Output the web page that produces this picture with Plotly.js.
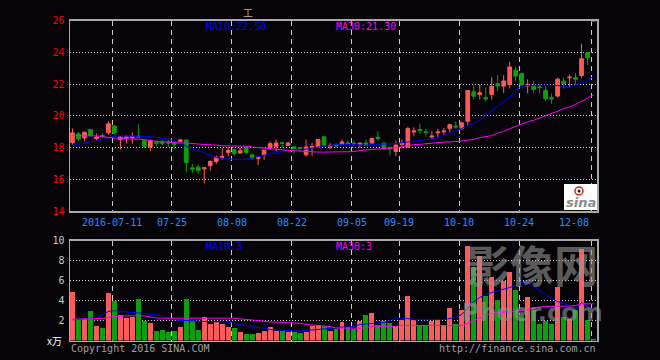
<!DOCTYPE html>
<html>
<head>
<meta charset="utf-8">
<script src="https://cdn.plot.ly/plotly-3.0.1.min.js"></script>
<style>html,body{margin:0;padding:0;background:#050307;}#chart{width:660px;height:360px;}</style>
</head>
<body>
<div id="chart"></div>
<script>
// ---- data ----
const openP  = [18.30,18.87,18.60,19.13,18.56,18.75,18.93,19.36,18.50,18.58,18.62,18.72,18.45,18.03,18.33,18.33,18.35,18.25,18.38,18.47,
                16.72,16.76,16.66,16.85,17.12,17.38,17.69,17.86,17.65,18.03,17.54,17.31,17.54,17.97,18.07,18.30,18.13,18.05,18.00,17.54,
                18.00,18.05,18.67,18.05,18.18,18.18,18.28,18.27,18.18,18.28,18.28,18.64,18.28,17.98,17.75,18.20,18.03,18.98,19.13,18.98,
                18.66,18.92,18.98,19.19,19.36,19.19,19.65,21.51,21.34,21.13,21.34,22.02,21.87,21.97,22.86,22.67,21.87,21.87,21.82,21.60,
                21.13,21.24,22.18,22.39,22.39,22.53,23.97,26.00];
const highP  = [19.20,18.97,19.00,19.15,18.87,18.90,19.67,19.40,18.72,18.79,18.95,19.46,18.47,18.50,18.45,18.48,18.48,18.30,18.55,18.49,
                16.97,16.90,16.72,17.20,17.50,17.97,18.03,17.90,17.97,18.05,17.58,17.44,17.85,18.38,18.49,18.35,18.35,18.10,18.03,18.50,
                18.30,18.50,18.70,18.28,18.28,18.50,18.45,18.43,18.30,18.50,18.60,19.02,18.30,18.05,18.45,18.50,19.30,19.27,19.50,19.17,
                19.02,19.17,19.23,19.50,19.65,19.65,21.60,21.97,21.97,21.77,22.43,22.56,22.56,23.40,23.07,22.70,22.30,22.20,22.00,21.87,
                21.40,22.40,22.40,22.60,22.70,24.54,23.97,26.00];
const lowP   = [18.20,18.40,18.40,18.75,18.45,18.60,18.80,18.80,17.88,18.24,18.24,18.62,17.97,17.78,18.05,18.12,18.03,17.88,18.30,16.42,
                16.39,16.35,15.75,16.55,16.95,17.23,17.44,17.48,17.62,17.55,17.23,16.91,17.23,17.86,17.75,18.00,18.10,17.60,17.75,17.43,
                17.45,18.00,18.10,17.90,17.97,18.18,18.13,18.10,17.97,18.13,18.25,18.40,17.85,17.50,17.45,18.00,18.00,18.70,18.87,18.70,
                18.54,18.66,18.81,18.95,19.17,19.10,19.35,21.03,21.03,20.90,21.02,21.55,21.43,21.72,22.18,21.90,21.40,21.45,21.40,20.93,
                20.75,21.15,21.70,21.80,21.97,22.40,23.20,25.96];
const closeP = [18.92,18.54,18.96,18.75,18.66,18.68,19.50,18.93,18.66,18.66,18.70,18.66,18.07,18.45,18.28,18.27,18.28,18.20,18.48,17.04,
                16.65,16.56,16.72,17.12,17.38,17.43,17.82,17.61,17.80,17.69,17.33,17.40,17.82,18.24,18.28,18.26,18.28,17.86,17.95,18.03,
                18.06,18.50,18.13,18.13,18.11,18.35,18.24,18.24,18.28,18.13,18.56,18.56,17.90,17.92,18.15,18.27,19.19,19.04,19.08,18.94,
                18.72,18.97,19.03,19.44,19.30,19.55,21.60,21.23,21.45,21.07,21.85,21.87,22.19,23.07,22.50,21.93,21.93,21.66,21.78,21.07,
                21.05,22.30,22.02,22.43,22.30,23.59,23.65,25.96];
const ma10P  = [18.13,18.22,18.30,18.36,18.40,18.50,18.60,18.72,18.73,18.73,18.72,18.72,18.70,18.68,18.63,18.60,18.53,18.42,18.28,18.08,
                17.92,17.80,17.66,17.50,17.37,17.30,17.28,17.27,17.25,17.28,17.33,17.43,17.52,17.62,17.70,17.76,17.84,17.88,17.88,17.90,
                17.97,18.03,18.08,18.10,18.20,18.20,18.18,18.15,18.15,18.15,18.18,18.20,18.20,18.20,18.25,18.30,18.35,18.40,18.47,18.52,
                18.55,18.60,18.78,18.90,19.05,19.20,19.35,19.55,19.70,20.05,20.30,20.60,20.90,21.15,21.60,21.85,21.90,21.93,21.93,21.93,
                21.92,21.90,21.85,21.80,21.95,22.10,22.20,22.50];
const ma30P  = [18.75,18.75,18.75,18.74,18.73,18.68,18.62,18.60,18.58,18.57,18.55,18.53,18.50,18.42,18.37,18.36,18.34,18.30,18.28,18.28,
                18.27,18.22,18.19,18.18,18.15,18.11,18.11,18.10,18.09,18.08,18.03,17.99,17.97,17.93,17.88,17.85,17.82,17.80,17.77,17.74,
                17.72,17.71,17.71,17.71,17.71,17.72,17.72,17.74,17.80,17.86,17.88,17.90,17.95,17.97,17.98,18.05,18.15,18.18,18.20,18.24,
                18.28,18.30,18.34,18.35,18.36,18.40,18.47,18.50,18.62,18.70,18.75,18.92,19.02,19.18,19.33,19.48,19.62,19.72,19.85,19.97,
                20.12,20.28,20.45,20.55,20.72,20.90,21.08,21.30];
const volume = [4.9,2.1,2.2,3.0,1.5,1.3,4.8,4.0,2.6,2.3,2.4,4.2,2.0,1.8,1.0,1.1,0.9,1.0,1.4,4.2,
                2.0,1.1,2.4,1.7,1.9,1.7,1.4,1.3,0.9,0.7,0.7,0.8,1.0,1.4,1.0,1.0,0.9,0.9,0.8,0.9,
                1.5,1.6,1.5,1.0,1.2,1.9,1.4,1.2,2.0,2.6,2.8,1.6,2.0,1.8,1.5,2.1,4.5,2.1,1.5,1.5,
                2.0,2.2,1.5,3.3,1.7,3.1,9.5,7.4,8.5,4.5,6.4,4.1,6.0,6.9,5.1,2.6,4.4,3.1,1.7,2.0,
                1.7,5.4,2.4,2.2,3.1,9.2,2.1,0.2];
const ma10V  = [2.07,2.10,2.20,2.23,2.25,2.60,2.90,2.97,2.95,2.85,2.80,2.78,2.72,2.60,2.57,2.50,2.20,2.10,2.00,2.00,
                1.95,1.90,1.90,1.90,1.90,1.88,1.85,1.70,1.60,1.50,1.35,1.30,1.25,1.10,1.05,1.00,1.00,0.97,0.97,1.00,
                1.10,1.13,1.15,1.20,1.33,1.33,1.35,1.40,1.60,1.65,1.70,1.75,1.80,2.00,2.23,2.23,2.20,2.07,2.07,2.07,
                2.07,2.07,2.10,2.20,2.33,2.60,3.30,3.90,4.30,4.60,4.80,4.95,5.10,5.30,5.50,5.80,5.80,5.40,5.00,4.60,
                4.20,3.90,3.70,3.50,3.10,3.80,3.40,3.10];
const ma30V  = [2.13,2.13,2.13,2.13,2.13,2.20,2.33,2.40,2.45,2.47,2.47,2.47,2.47,2.35,2.25,2.23,2.23,2.23,2.23,2.23,
                2.23,2.23,2.23,2.23,2.23,2.23,2.23,2.23,2.15,2.07,2.05,2.00,1.90,1.85,1.83,1.83,1.78,1.75,1.73,1.60,
                1.55,1.50,1.48,1.40,1.25,1.23,1.23,1.23,1.23,1.30,1.40,1.42,1.42,1.42,1.42,1.50,1.50,1.50,1.50,1.50,
                1.50,1.50,1.50,1.50,1.50,1.50,1.73,2.00,2.30,2.50,2.73,2.78,2.82,2.87,2.90,3.00,3.10,3.25,3.35,3.40,
                3.40,3.40,3.42,3.45,3.50,3.67,3.67,3.67];
const tickIdx    = [7,17,27,37,47,55,65,75,87];
const tickLabels = ['2016-07-11','07-25','08-08','08-22','09-05','09-19','10-10','10-24','12-08'];
const priceTicks = [14,16,18,20,22,24,26];
const volTicks   = [0,2,4,6,8,10];
const volTickText= ['','2','4','6','8','10'];
const ma10PriceLabel = 'MA10:22.50', ma30PriceLabel = 'MA30:21.30';
const ma10VolLabel = 'MA10:3', ma30VolLabel = 'MA30:3';

// ---- styling ----
const W = 660, H = 360;
const BG = '#050307', RED = '#ff5a5a', GREEN = '#0aa00a';
const MONO = 'DejaVu Sans Mono, monospace';
const px = v => v / W, py = v => 1 - v / H;
const idx = closeP.map((_, i) => i);
const half = 0.4167;
const gridPos = tickIdx.map(i => i - 0.4);
const volColors = closeP.map((c, i) => c >= openP[i] ? RED : GREEN);

const traces = [
  { type:'candlestick', x:idx, open:openP, high:highP, low:lowP, close:closeP, xaxis:'x', yaxis:'y',
    increasing:{line:{color:RED,width:1}, fillcolor:RED},
    decreasing:{line:{color:GREEN,width:1}, fillcolor:GREEN},
    whiskerwidth:0, hoverinfo:'skip' },
  { type:'scatter', mode:'lines', x:idx, y:ma10P, xaxis:'x', yaxis:'y', line:{color:'#0000ff', width:1}, hoverinfo:'skip' },
  { type:'scatter', mode:'lines', x:idx, y:ma30P, xaxis:'x', yaxis:'y', line:{color:'#ff00ff', width:1}, hoverinfo:'skip' },
  { type:'bar', x:idx, y:volume, xaxis:'x2', yaxis:'y2', width:0.83, marker:{color:volColors, line:{width:0}}, hoverinfo:'skip' },
  { type:'scatter', mode:'lines', x:idx, y:ma10V, xaxis:'x2', yaxis:'y2', line:{color:'#0000ff', width:1}, hoverinfo:'skip' },
  { type:'scatter', mode:'lines', x:idx, y:ma30V, xaxis:'x2', yaxis:'y2', line:{color:'#ff00ff', width:1}, hoverinfo:'skip' }
];

const xCommon = {
  domain:[px(70), px(597)], range:[-half, idx.length - 1 + 0.58], tickmode:'array', tickvals:gridPos,
  showticklabels:false, ticks:'', showgrid:true, gridcolor:'#c8c8c8', griddash:'5px,4px', gridwidth:1,
  showline:true, mirror:true, linecolor:'#a8a8a8', linewidth:1.5, zeroline:false, fixedrange:true,
  rangeslider:{visible:false}
};

const annotations = [];
tickLabels.forEach((t, k) => {
  const last = k === tickLabels.length - 1;
  annotations.push({ text:t, x:gridPos[k], xref:'x', y:py(222), yref:'paper', showarrow:false,
    xanchor: last ? 'right' : 'center', yanchor:'middle', font:{family:MONO, size:10, color:'#1e90ff'} });
});
const addTxt = (text, x, y, color, xanchor, size, family, extra) =>
  annotations.push(Object.assign({ text, x:px(x), y:py(y), xref:'paper', yref:'paper', showarrow:false,
    xanchor: xanchor || 'left', yanchor:'middle', font:{family: family || MONO, size: size || 10, color} }, extra || {}));
addTxt(ma10PriceLabel, 204, 27, '#0000ff');
addTxt(ma30PriceLabel, 334, 27, '#ff00ff');
addTxt(ma10VolLabel, 204, 246.5, '#0000ff');
addTxt(ma30VolLabel, 334, 246.5, '#ff00ff');
addTxt('工', 248, 12.5, '#b0b0b0', 'center', 10, 'Noto Sans CJK SC');
addTxt('x万', 64, 340, '#ffffff', 'right', 10, 'Noto Sans CJK SC, ' + MONO);
addTxt('Copyright 2016 SINA.COM', 69, 348, '#a0a0a0');
addTxt('http://finance.sina.com.cn', 598, 348, '#a0a0a0', 'right');
addTxt('<i><b>sina</b></i>', 581, 202, '#8a8a8a', 'center', 13, 'DejaVu Sans');
addTxt('<b>影像网</b>', 532, 264, 'rgba(150,150,150,0.6)', 'center', 44, 'Noto Sans CJK SC');
addTxt('<b>Phoer.com</b>', 532, 313, 'rgba(150,150,150,0.6)', 'center', 24, 'DejaVu Sans');

const shapes = [
  { type:'rect', xref:'paper', yref:'paper', x0:px(564), x1:px(597), y0:py(210), y1:py(184), fillcolor:'#ffffff', line:{width:0}, layer:'above' },
  { type:'circle', xref:'paper', yref:'paper', x0:px(575), x1:px(583), y0:py(195), y1:py(187), fillcolor:'#ffffff', line:{color:'#e02020', width:1.5}, layer:'above' },
  { type:'circle', xref:'paper', yref:'paper', x0:px(577.5), x1:px(580.5), y0:py(192.5), y1:py(189.5), fillcolor:'#202020', line:{width:0}, layer:'above' }
];

const layout = {
  width:W, height:H, margin:{l:0, r:0, t:0, b:0, autoexpand:false},
  paper_bgcolor:BG, plot_bgcolor:BG, showlegend:false, boxgap:0.12, bargap:0,
  xaxis: Object.assign({}, xCommon, {anchor:'y'}),
  xaxis2: Object.assign({}, xCommon, {anchor:'y2', matches:'x'}),
  yaxis: { domain:[py(211), py(20.5)], range:[14,26], tickmode:'array', tickvals:priceTicks,
    tickfont:{family:MONO, size:10, color:'#ff0000'}, ticks:'', ticklabelstandoff:2,
    showgrid:true, gridcolor:'#d0d0d0', griddash:'1px,2px', gridwidth:1,
    showline:true, mirror:true, linecolor:'#a8a8a8', linewidth:1.5, zeroline:false, fixedrange:true, anchor:'x' },
  yaxis2: { domain:[py(340.5), py(240.5)], range:[0,10], tickmode:'array', tickvals:volTicks, ticktext:volTickText,
    tickfont:{family:MONO, size:10, color:'#c8c8c8'}, ticks:'', ticklabelstandoff:2,
    showgrid:true, gridcolor:'#d0d0d0', griddash:'1px,2px', gridwidth:1,
    showline:true, mirror:true, linecolor:'#a8a8a8', linewidth:1.5, zeroline:false, fixedrange:true, anchor:'x2' },
  annotations, shapes
};

Plotly.newPlot('chart', traces, layout, {staticPlot:true, displayModeBar:false});
</script>
</body>
</html>
